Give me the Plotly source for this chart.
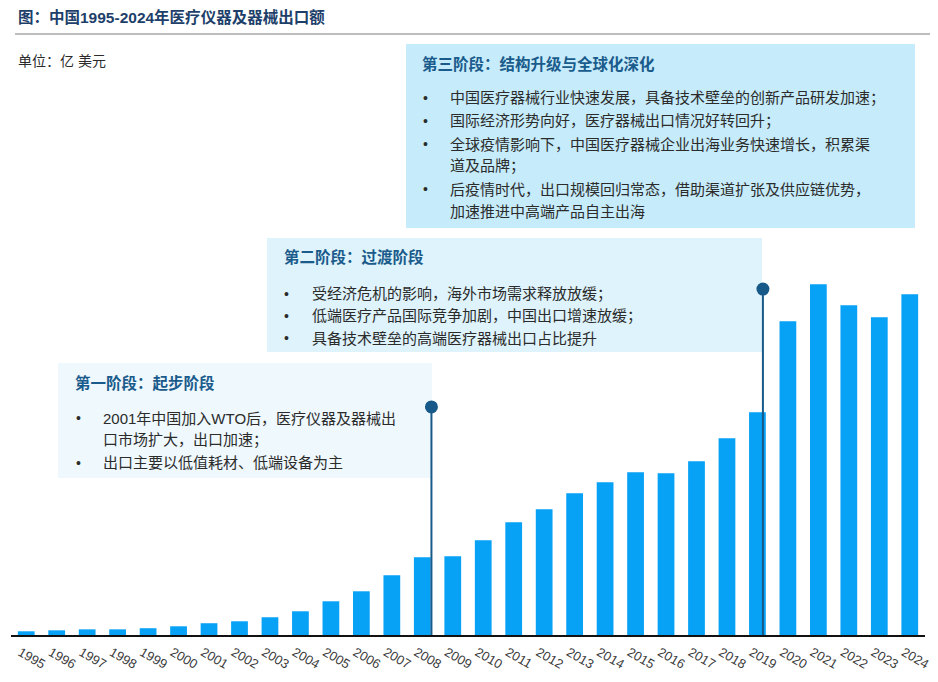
import plotly.graph_objects as go

# ---------------- data ----------------
years = list(range(1995, 2025))
export_values = [2.3, 2.9, 3.5, 3.5, 4.2, 5.4, 7.3, 8.5, 11.0, 14.7,
                 20.9, 27.1, 37.0, 48.2, 48.8, 58.7, 69.9, 77.9, 87.9, 94.7,
                 100.9, 100.3, 107.7, 122.0, 138.1, 194.5, 217.4, 204.4, 197.0, 211.2]

phase_line_years = [2008, 2019]
phase_line_tops = [141.4, 214.5]

title_text = "图：中国1995-2024年医疗仪器及器械出口额"
unit_text = "单位：亿 美元"

phase1_title = "第一阶段：起步阶段"
phase1_lines = [("•", "2001年中国加入WTO后，医疗仪器及器械出"),
                ("", "口市场扩大，出口加速；"),
                ("•", "出口主要以低值耗材、低端设备为主")]
phase2_title = "第二阶段：过渡阶段"
phase2_lines = [("•", "受经济危机的影响，海外市场需求释放放缓；"),
                ("•", "低端医疗产品国际竞争加剧，中国出口增速放缓；"),
                ("•", "具备技术壁垒的高端医疗器械出口占比提升")]
phase3_title = "第三阶段：结构升级与全球化深化"
phase3_lines = [("•", "中国医疗器械行业快速发展，具备技术壁垒的创新产品研发加速；"),
                ("•", "国际经济形势向好，医疗器械出口情况好转回升；"),
                ("•", "全球疫情影响下，中国医疗器械企业出海业务快速增长，积累渠"),
                ("", "道及品牌；"),
                ("•", "后疫情时代，出口规模回归常态，借助渠道扩张及供应链优势，"),
                ("", "加速推进中高端产品自主出海")]

# ---------------- layout helpers ----------------
OFF = 8  # page body margin
W, H = 938 - OFF, 682 - OFF
PLOT_X0, PLOT_X1, PLOT_Y0, PLOT_Y1 = 11, 925, 40, 635  # screen pixels
L, R = PLOT_X0 - OFF, (W + OFF) - PLOT_X1
T, B = PLOT_Y0 - OFF, (H + OFF) - PLOT_Y1
PW, PH = PLOT_X1 - PLOT_X0, PLOT_Y1 - PLOT_Y0
YMAX = 368.9


def px(x):
    return (x - PLOT_X0) / PW


def py(y):
    return (PLOT_Y1 - y) / PH


FONT = "Liberation Sans, Noto Sans CJK SC, sans-serif"
BAR_COLOR = "#07a1f6"
LINE_COLOR = "#175a8a"
HEAD_COLOR = "#1a5b8c"
TEXT_COLOR = "#2b2b2b"

fig = go.Figure()
fig.add_trace(go.Bar(x=years, y=export_values, marker_color=BAR_COLOR,
                     marker_line_width=0, width=0.55, hoverinfo="x+y"))

offsets = [0.3, 0.18]
for yr, top, off in zip(phase_line_years, phase_line_tops, offsets):
    fig.add_trace(go.Scatter(x=[yr + off, yr + off], y=[-1.6, top], mode="lines",
                             line=dict(color=LINE_COLOR, width=2), hoverinfo="skip"))
    fig.add_trace(go.Scatter(x=[yr + off], y=[top], mode="markers",
                             marker=dict(color=LINE_COLOR, size=13), hoverinfo="skip"))

shapes = []
annotations = []

# title & separator line
annotations.append(dict(text=f"<b>{title_text}</b>", x=px(16), y=py(17), xref="paper", yref="paper",
                        xanchor="left", yanchor="middle", showarrow=False,
                        font=dict(family=FONT, size=15.5, color="#1d3f6a")))
shapes.append(dict(type="line", xref="paper", yref="paper", x0=px(15), x1=px(938), y0=py(34), y1=py(34),
                   line=dict(color="#bdbdbd", width=2)))
annotations.append(dict(text=unit_text, x=px(16), y=py(61), xref="paper", yref="paper",
                        xanchor="left", yanchor="middle", showarrow=False,
                        font=dict(family=FONT, size=14, color=TEXT_COLOR)))


def add_box(x0, y0, x1, y1, color, title, title_y, lines, line_ys, bullet_x, text_x, title_x):
    shapes.append(dict(type="rect", xref="paper", yref="paper", x0=px(x0), x1=px(x1),
                       y0=py(y1), y1=py(y0), fillcolor=color, line=dict(width=0), layer="below"))
    annotations.append(dict(text=f"<b>{title}</b>", x=px(title_x), y=py(title_y), xref="paper", yref="paper",
                            xanchor="left", yanchor="middle", showarrow=False,
                            font=dict(family=FONT, size=15.5, color=HEAD_COLOR)))
    for (bullet, txt), ly in zip(lines, line_ys):
        if bullet:
            annotations.append(dict(text=bullet, x=px(bullet_x), y=py(ly), xref="paper", yref="paper",
                                    xanchor="left", yanchor="middle", showarrow=False,
                                    font=dict(family=FONT, size=14, color=TEXT_COLOR)))
        annotations.append(dict(text=txt, x=px(text_x), y=py(ly), xref="paper", yref="paper",
                                xanchor="left", yanchor="middle", showarrow=False,
                                font=dict(family=FONT, size=15, color=TEXT_COLOR)))


add_box(406, 44, 915, 228, "#c6ebfa", phase3_title, 64, phase3_lines,
        [98, 121, 144, 166, 189, 211], 421, 448, 420)
add_box(267, 238, 762, 352, "#def3fb", phase2_title, 257, phase2_lines,
        [294, 316, 338], 282, 310, 282)
add_box(58, 363, 432, 478, "#eef8fd", phase1_title, 383, phase1_lines,
        [418, 440, 463], 74, 101, 73)

fig.update_layout(
    width=W, height=H,
    margin=dict(l=L, r=R, t=T, b=B, autoexpand=False),
    paper_bgcolor="white", plot_bgcolor="rgba(0,0,0,0)",
    showlegend=False,
    shapes=shapes, annotations=annotations,
    font=dict(family=FONT, color=TEXT_COLOR),
    xaxis=dict(range=[1994.5, 2024.5], tickmode="array", tickvals=years,
               ticktext=[str(y) for y in years], tickangle=30,
               tickfont=dict(family=FONT, size=13, color="#3a3a3a"),
               showline=True, linecolor="#111111", linewidth=2, showgrid=False,
               zeroline=False, ticks="", ticklabelshift=-6, ticklabelstandoff=3,
               fixedrange=True),
    yaxis=dict(range=[0, YMAX], visible=False, showgrid=False, zeroline=False, fixedrange=True),
)

fig.write_html("out.html")
